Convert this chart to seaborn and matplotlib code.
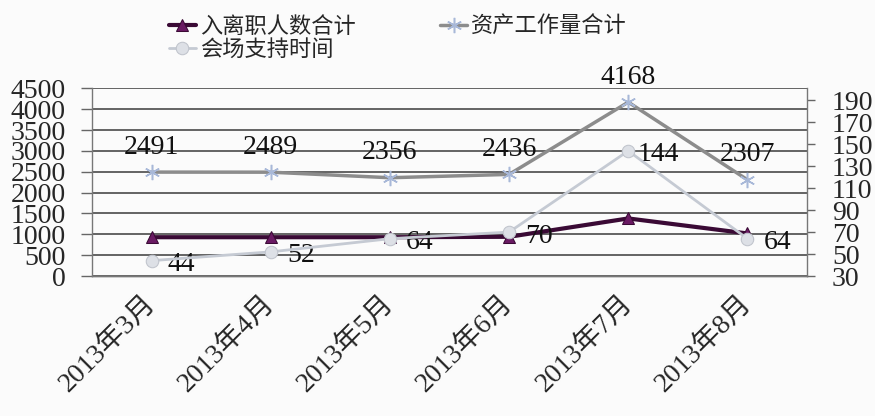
import numpy as np
import pandas as pd
import matplotlib
matplotlib.use("Agg")
import matplotlib.pyplot as plt
import seaborn as sns

months = ["2013年3月", "2013年4月", "2013年5月", "2013年6月", "2013年7月", "2013年8月"]
staff_changes = [930, 930, 930, 940, 1380, 1020]
asset_work = [2491, 2489, 2356, 2436, 4168, 2307]
meeting_hours = [44, 52, 64, 70, 144, 64]
series_names = ["入离职人数合计", "资产工作量合计", "会场支持时间"]
left_ticks = list(range(0, 4501, 500))
right_ticks = list(range(30, 191, 20))

sns.set_theme(style="white")
plt.rcParams['font.family'] = ['Liberation Serif', 'Noto Sans CJK SC', 'DejaVu Sans']

df = pd.DataFrame({"pos": np.arange(len(months)), "month": months,
                   "staff": staff_changes, "asset": asset_work, "meeting": meeting_hours})

fig = plt.figure(figsize=(8.75, 4.16), dpi=100)
fig.patch.set_facecolor("#fbfbfb")
ax = fig.add_axes([92/875, 1-276/416, (807-92)/875, (276-88.3)/416])
ax.set_facecolor("#fbfbfb")
ax2 = ax.twinx()

sns.lineplot(data=df, x="pos", y="asset", ax=ax, color="#8c8c8c", lw=2.5,
             marker=(6, 2, 0), markersize=11, markeredgecolor="#a8b8d8",
             markeredgewidth=1.1, label=series_names[1], legend=False, zorder=3)
sns.lineplot(data=df, x="pos", y="staff", ax=ax, color="#3a0a35", lw=3,
             marker="^", markersize=9, markerfacecolor="#6a1a63",
             markeredgecolor="#3a0a35", label=series_names[0], legend=False, zorder=4)
sns.lineplot(data=df, x="pos", y="meeting", ax=ax2, color="#c5cad3", lw=2,
             marker="o", markersize=9, markerfacecolor="#dde0e6",
             markeredgecolor="#c0c4cc", label=series_names[2], legend=False, zorder=5)

ax.set_xlim(-0.5, len(months) - 0.5)
ax.set_ylim(0, 4500)
ax2.set_ylim(30, 201)
ax.set_yticks(left_ticks)
ax2.set_yticks(right_ticks)
ax.yaxis.grid(True, color="#3a3a3a", lw=1.1)
ax.set_axisbelow(True)

ax.set_xticks(np.arange(-0.5, len(months)), minor=False)
ax.set_xticklabels([])
ax.set_xticks(np.arange(len(months)), minor=True)
ax.set_xticklabels(months, minor=True, rotation=45, ha="right", va="center",
                   rotation_mode="anchor", fontsize=20)
ax.tick_params(axis="x", which="major", length=7, width=1, color="#666666", direction="out")
ax.tick_params(axis="x", which="minor", length=0, pad=17)
ax.tick_params(axis="y", length=8, width=1, color="#666666", direction="out",
               labelsize=20, pad=11, left=True)
ax2.tick_params(axis="y", length=6, width=1, color="#666666", direction="out",
                labelsize=20, pad=12, right=True)
for a in (ax, ax2):
    a.set_xlabel("")
    a.set_ylabel("")
    a.spines["top"].set_visible(False)
    for s in ["left", "right", "bottom"]:
        a.spines[s].set_color("#777777")
        a.spines[s].set_linewidth(1)
ax2.spines["left"].set_visible(False)
ax.spines["right"].set_visible(False)

for x, v in zip(df["pos"], asset_work):
    ax.annotate(str(v), (x, v), xytext=(0, 25), textcoords="offset pixels",
                ha="center", va="center", fontsize=20, color="#111111")
for x, v in zip(df["pos"], meeting_hours):
    ax2.annotate(str(v), (x, v), xytext=(30, -4), textcoords="offset pixels",
                 ha="center", va="center", fontsize=20, color="#111111")

h1, l1 = ax.get_legend_handles_labels()
h2, l2 = ax2.get_legend_handles_labels()
hmap = dict(zip(l1 + l2, h1 + h2))
order = [series_names[0], series_names[2], series_names[1]]
leg = fig.legend([hmap[n] for n in order], order, loc="upper left",
                 bbox_to_anchor=(160/875, 1 - 6/416), ncol=2, frameon=False,
                 prop={"family": ["Noto Sans CJK SC"], "size": 16},
                 handlelength=1.2, handletextpad=0.2, columnspacing=3.8,
                 labelspacing=0.0, borderaxespad=0)

fig.savefig("out.png", dpi=100, facecolor=fig.get_facecolor())
